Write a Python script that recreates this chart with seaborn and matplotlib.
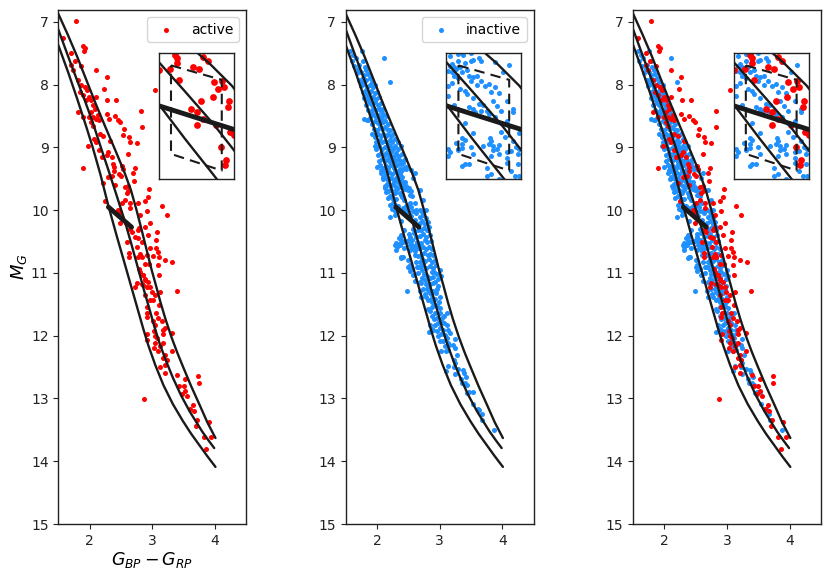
import pandas as pd
import matplotlib
matplotlib.use('Agg')
import matplotlib.pyplot as plt
import seaborn as sns

# Three model tracks
track_a_colour = [1.5, 1.66, 1.8, 1.95, 2.05, 2.17, 2.3, 2.43, 2.557, 2.66, 2.78, 2.86, 2.94, 3.05, 3.18, 3.33, 3.49, 3.62, 3.75, 3.88, 4.01]
track_a_mag = [7.37, 7.81, 8.22, 8.68, 9.0, 9.42, 9.93, 10.4, 10.84, 11.2, 11.62, 11.9, 12.16, 12.47, 12.79, 13.09, 13.36, 13.56, 13.74, 13.92, 14.09]
track_b_colour = [1.5, 1.65, 1.8, 1.93, 2.05, 2.17, 2.3, 2.43, 2.57, 2.67, 2.78, 2.87, 2.96, 3.03, 3.12, 3.22, 3.33, 3.46, 3.6, 3.8, 3.9, 3.99]
track_b_mag = [7.12, 7.53, 7.93, 8.27, 8.6, 8.97, 9.36, 9.76, 10.2, 10.55, 10.95, 11.28, 11.59, 11.84, 12.13, 12.4, 12.67, 12.95, 13.21, 13.53, 13.67, 13.79]
track_c_colour = [1.5, 1.65, 1.8, 1.95, 2.1, 2.25, 2.4, 2.55, 2.66, 2.75, 2.83, 2.91, 2.99, 3.06, 3.13, 3.21, 3.31, 3.4, 3.49, 3.62, 3.76, 3.88, 4.01]
track_c_mag = [6.87, 7.2, 7.55, 7.93, 8.31, 8.67, 9.02, 9.38, 9.68, 10.0, 10.31, 10.63, 10.95, 11.2, 11.46, 11.73, 12.03, 12.27, 12.49, 12.8, 13.11, 13.38, 13.63]

# Thick segment and dashed selection box
thick_colour = [2.30, 2.67]
thick_mag = [9.95, 10.27]
box_colour = [2.36, 2.61, 2.61, 2.36, 2.36]
box_mag = [9.405, 9.60, 10.825, 10.60, 9.405]

active_stars = [
    (1.79, 6.98), (1.58, 7.26), (1.90, 7.39), (1.93, 7.41), (1.91, 7.46), (1.70, 7.49), (1.77, 7.63),
    (1.71, 7.69), (1.74, 7.77), (1.87, 7.70), (2.11, 7.77), (2.27, 7.88), (2.23, 8.07), (1.82, 7.92),
    (1.87, 8.00), (1.93, 8.04), (1.96, 8.08), (1.85, 8.11), (1.90, 8.16), (1.99, 8.19), (2.03, 8.24),
    (2.10, 8.20), (1.95, 8.24), (2.28, 8.25), (2.42, 8.25), (2.06, 8.32), (2.08, 8.38), (2.03, 8.43),
    (1.82, 8.44), (2.82, 8.42), (1.90, 8.51), (1.99, 8.52), (2.06, 8.51), (2.14, 8.48), (2.27, 8.46),
    (2.40, 8.50), (2.31, 8.54), (2.46, 8.56), (2.49, 8.60), (2.02, 8.59), (2.11, 8.55), (2.05, 8.66),
    (2.15, 8.56), (2.55, 8.71), (2.83, 8.68), (2.16, 8.78), (2.22, 8.82), (2.07, 8.86), (2.11, 8.91),
    (2.54, 8.80), (2.63, 8.84), (2.65, 8.91), (2.75, 8.93), (1.98, 8.97), (2.15, 9.04), (2.32, 8.90),
    (2.30, 9.08), (2.62, 9.10), (2.27, 9.12), (2.35, 9.15), (2.19, 9.16), (1.90, 9.32), (2.72, 9.32),
    (2.69, 9.41), (2.30, 9.47), (2.71, 9.53), (2.21, 9.57), (2.95, 9.67), (2.94, 9.79), (2.89, 9.86),
    (2.78, 9.89), (2.25, 9.86), (3.15, 9.93), (2.91, 10.01), (3.23, 10.08), (2.80, 10.08), (2.96, 10.20),
    (2.89, 10.26), (2.79, 10.29), (3.08, 10.34), (2.93, 10.39), (2.77, 10.31), (3.06, 10.47), (2.78, 10.45),
    (2.72, 10.42), (2.83, 10.50), (2.76, 10.58), (2.96, 10.60), (3.06, 10.61), (3.10, 10.66), (2.80, 10.69),
    (2.78, 10.74), (2.83, 10.74), (2.91, 10.71), (3.02, 10.73), (3.11, 10.74), (3.20, 10.79), (3.32, 10.82),
    (2.88, 10.85), (2.95, 10.85), (3.10, 10.87), (2.79, 10.93), (3.11, 11.03), (2.85, 11.03), (2.88, 11.09),
    # inside the inset window
    (2.38, 9.27), (2.39, 9.31), (2.39, 9.37), (2.52, 9.29), (2.54, 9.34), (2.355, 9.46), (2.47, 9.43),
    (2.50, 9.45), (2.40, 9.60), (2.57, 9.63), (2.61, 9.62), (2.62, 9.70), (2.59, 9.72), (2.645, 9.89),
    (2.64, 9.97), (2.565, 9.83), (2.51, 9.89), (2.46, 9.99), (2.49, 10.03), (2.52, 10.13), (2.49, 10.21),
    (2.58, 10.21), (2.65, 10.30), (2.67, 10.34), (2.605, 10.50), (2.63, 10.68), (2.625, 10.75),
    (3.04, 8.09),
    # lower sequence
    (2.80, 10.98), (2.86, 11.03), (2.72, 11.22), (2.75, 11.16), (3.39, 11.28), (2.88, 11.11), (2.94, 11.14),
    (2.91, 11.22), (2.96, 11.22), (2.86, 11.19), (2.83, 11.17), (2.99, 11.30), (3.04, 11.35), (2.88, 11.35),
    (3.13, 11.31), (2.96, 11.43), (3.02, 11.43), (3.11, 11.51), (2.91, 11.55), (3.06, 11.63), (2.92, 11.63),
    (2.91, 11.70), (3.10, 11.72), (3.16, 11.77), (3.02, 11.77), (3.04, 11.83), (3.20, 11.88), (3.18, 11.91),
    (3.03, 11.92), (3.31, 11.96), (2.92, 11.97), (3.18, 11.97), (2.91, 12.07), (3.04, 12.00), (3.08, 12.04),
    (3.18, 12.11), (3.05, 12.11), (3.03, 12.19), (3.12, 12.16), (3.10, 12.24), (3.31, 12.25), (3.20, 12.31),
    (3.18, 12.36), (3.23, 12.39), (3.20, 12.47), (3.13, 12.50), (3.20, 12.59), (3.40, 12.63), (3.73, 12.64),
    (3.52, 12.69), (3.74, 12.76), (3.43, 12.80), (3.50, 12.80), (3.53, 12.88), (3.48, 12.93), (3.55, 12.96),
    (2.87, 13.01), (3.65, 13.10), (3.60, 13.17), (3.67, 13.20), (3.71, 13.34), (3.70, 13.44), (3.90, 13.38),
    (3.82, 13.62), (3.94, 13.62), (3.86, 13.81),
]

inactive_stars = [
    # upper sequence, row by row
    (1.57, 7.47), (1.76, 7.46), (1.62, 7.53), (2.11, 7.57), (1.60, 7.62), (1.66, 7.58), (1.78, 7.63),
    (1.64, 7.71), (1.72, 7.68), (1.80, 7.72), (1.83, 7.77), (1.68, 7.81), (1.75, 7.79), (1.79, 7.84),
    (1.85, 7.83), (1.72, 7.92), (1.78, 7.89), (1.83, 7.93), (1.88, 7.9), (1.92, 7.95), (2.20, 7.96),
    (1.74, 8.02), (1.79, 7.99), (1.84, 8.03), (1.88, 8.0), (1.93, 8.04), (1.97, 8.01), (1.78, 8.12),
    (1.83, 8.09), (1.87, 8.13), (1.91, 8.1), (1.96, 8.14), (2.0, 8.11), (1.79, 8.21), (1.85, 8.18),
    (1.9, 8.22), (1.94, 8.19), (1.98, 8.23), (2.03, 8.2), (1.82, 8.32), (1.88, 8.29), (1.92, 8.33),
    (1.96, 8.28), (2.01, 8.32), (2.06, 8.29), (1.85, 8.4), (1.9, 8.43), (1.94, 8.38), (1.98, 8.41),
    (2.03, 8.37), (2.07, 8.42), (2.1, 8.39), (1.84, 8.56), (1.88, 8.53), (1.85, 8.57), (1.79, 8.55),
    (1.9, 8.5), (1.94, 8.47), (1.98, 8.52), (2.02, 8.48), (2.06, 8.51), (2.1, 8.47), (2.14, 8.5),
    (1.92, 8.62), (1.97, 8.58), (2.01, 8.61), (2.05, 8.57), (2.09, 8.6), (2.13, 8.58), (2.17, 8.62),
    (1.95, 8.7), (2.0, 8.72), (2.04, 8.68), (2.08, 8.71), (2.12, 8.67), (2.16, 8.7), (2.2, 8.73),
    (1.96, 8.83), (2.02, 8.79), (2.06, 8.82), (2.1, 8.78), (2.14, 8.81), (2.18, 8.78), (2.22, 8.82),
    (2.26, 8.79), (1.98, 8.91), (2.04, 8.88), (2.08, 8.92), (2.12, 8.89), (2.16, 8.92), (2.2, 8.88),
    (2.24, 8.91), (2.29, 8.87), (2.33, 8.92), (1.99, 9.03), (2.03, 8.98), (2.08, 9.02), (2.13, 8.99),
    (2.17, 9.03), (2.21, 8.98), (2.25, 9.02), (2.29, 8.98), (2.33, 9.03), (2.38, 8.98), (2.02, 9.12),
    (2.07, 9.09), (2.11, 9.13), (2.15, 9.09), (2.19, 9.12), (2.23, 9.08), (2.27, 9.13), (2.31, 9.09),
    (2.35, 9.13), (2.4, 9.1), (2.03, 9.21), (2.08, 9.18), (2.12, 9.22), (2.17, 9.19), (2.21, 9.23),
    (2.25, 9.18), (2.29, 9.22), (2.34, 9.19), (2.38, 9.22), (2.44, 9.18),
    # middle of the sequence, beside the inset window
    (2.0, 9.31), (2.05, 9.28), (2.09, 9.33), (2.14, 9.29), (2.18, 9.32), (2.22, 9.28), (2.27, 9.33),
    (2.06, 9.41), (2.1, 9.38), (2.15, 9.42), (2.19, 9.39), (2.24, 9.43), (2.28, 9.38), (2.09, 9.51),
    (2.13, 9.48), (2.18, 9.52), (2.22, 9.49), (2.27, 9.53), (2.12, 9.62), (2.16, 9.58), (2.2, 9.61),
    (2.25, 9.58), (2.29, 9.62), (2.13, 9.65), (2.15, 9.71), (2.18, 9.7), (2.23, 9.68), (2.28, 9.72),
    (2.17, 9.81), (2.21, 9.78), (2.26, 9.82), (2.21, 9.91), (2.26, 9.88), (2.29, 9.92), (2.24, 9.98),
    (2.28, 10.02), (2.2, 10.11), (2.28, 10.08), (2.1, 9.47), (2.07, 9.36), (2.18, 9.7),
    (2.61, 9.4), (2.69, 9.68), (2.74, 9.84), (2.78, 9.99), (2.82, 10.31), (2.58, 9.49), (2.68, 10.0),
    (2.72, 10.03), (2.69, 10.11), (2.74, 10.08), (2.78, 10.12), (2.68, 10.21), (2.72, 10.18), (2.77, 10.22),
    (2.81, 10.19), (2.7, 10.32), (2.75, 10.28), (2.8, 10.31), (2.83, 10.27), (2.69, 10.41), (2.73, 10.38),
    (2.78, 10.42), (2.84, 10.39), (2.71, 10.52), (2.76, 10.48), (2.8, 10.51), (2.86, 10.49), (2.68, 10.61),
    (2.74, 10.58), (2.79, 10.62), (2.83, 10.59), (2.88, 10.62), (2.7, 10.71), (2.75, 10.68), (2.81, 10.72),
    (2.85, 10.69), (2.9, 10.72), (2.69, 10.82), (2.72, 10.78), (2.77, 10.81), (2.83, 10.78), (2.87, 10.82),
    (2.92, 10.79), (2.68, 10.91), (2.74, 10.88), (2.79, 10.92), (2.85, 10.89), (2.89, 10.92), (2.94, 10.88),
    (2.38, 10.39), (2.29, 10.55), (2.32, 10.58), (2.38, 10.52), (2.41, 10.74), (2.5, 10.9), (2.52, 10.97),
    (2.31, 10.53), (2.36, 10.55), (2.39, 10.41), (2.42, 10.5), (2.38, 10.47),
    # inside the inset window
    (2.385, 9.26), (2.46, 9.31), (2.47, 9.35), (2.54, 9.36), (2.36, 9.34), (2.39, 9.37), (2.42, 9.34),
    (2.43, 9.33), (2.32, 9.41), (2.34, 9.43), (2.31, 9.48), (2.33, 9.5), (2.34, 9.55), (2.41, 9.55),
    (2.43, 9.56), (2.45, 9.55), (2.47, 9.61), (2.33, 9.64), (2.31, 9.68), (2.42, 9.61), (2.45, 9.67),
    (2.51, 9.65), (2.49, 9.68), (2.37, 9.73), (2.54, 9.7), (2.52, 9.76), (2.56, 9.78), (2.39, 9.75),
    (2.31, 9.82), (2.4, 9.79), (2.43, 9.84), (2.53, 9.88), (2.6, 9.88), (2.46, 9.93), (2.48, 9.94),
    (2.55, 9.95), (2.41, 9.96), (2.34, 9.94), (2.43, 9.99), (2.47, 10.02), (2.5, 10.02), (2.57, 10.02),
    (2.63, 9.99), (2.63, 10.04), (2.51, 10.06), (2.54, 10.1), (2.44, 10.04), (2.39, 10.18), (2.6, 10.15),
    (2.57, 10.18), (2.61, 10.22), (2.43, 10.32), (2.57, 10.3), (2.66, 10.32), (2.59, 10.37), (2.515, 10.38),
    (2.52, 10.43), (2.63, 10.42), (2.35, 10.45), (2.51, 10.47), (2.48, 10.49), (2.56, 10.48), (2.36, 10.54),
    (2.53, 10.49), (2.53, 10.55), (2.55, 10.54), (2.645, 10.5), (2.66, 10.54), (2.6, 10.57), (2.62, 10.56),
    (2.31, 10.63), (2.43, 10.6), (2.52, 10.63), (2.56, 10.6), (2.655, 10.6), (2.6, 10.65), (2.6, 10.72),
    (2.655, 10.73), (2.39, 10.74), (2.38, 10.76), (2.52, 10.87), (2.62, 10.83), (2.64, 10.9), (2.66, 10.9),
    (2.33, 9.38), (2.35, 9.46), (2.37, 9.42), (2.38, 9.5), (2.36, 9.58), (2.4, 9.47),
    # lower sequence
    (2.48, 11.28), (2.61, 11.13), (2.69, 11.14), (2.71, 11.16), (2.7, 11.38), (2.78, 11.38), (2.82, 11.43),
    (2.86, 11.34), (2.82, 11.22), (2.8, 11.25), (2.9, 11.16), (2.93, 11.14), (2.89, 11.06), (2.98, 11.09),
    (2.95, 11.01), (2.87, 10.98), (2.91, 10.98), (2.75, 11.02), (2.8, 11.05), (2.84, 11.08), (2.72, 11.08),
    (2.76, 11.11), (2.85, 11.17), (2.79, 11.18), (2.94, 11.32), (3.0, 11.39), (2.93, 11.51), (3.01, 11.56),
    (2.82, 11.58), (2.84, 11.6), (3.11, 11.64), (3.07, 11.69), (2.95, 11.72), (2.91, 11.74), (3.12, 11.83),
    (2.85, 11.83), (2.93, 11.83), (2.83, 11.94), (2.9, 11.91), (3.01, 11.87), (3.14, 11.91), (3.16, 11.96),
    (3.06, 11.91), (2.98, 12.01), (3.24, 12.06), (3.01, 12.09), (3.11, 12.04), (3.09, 11.99), (3.15, 12.15),
    (3.22, 12.15), (3.24, 12.2), (3.02, 12.25), (3.1, 12.24), (3.14, 12.23), (3.27, 12.31), (3.23, 12.38),
    (3.24, 12.44), (3.13, 12.48), (3.23, 12.5), (3.3, 12.53), (3.24, 12.61), (3.1, 12.57), (3.37, 12.55),
    (3.39, 12.59), (3.42, 12.66), (3.34, 12.69), (3.35, 12.76), (3.4, 12.75), (3.43, 12.79), (3.47, 12.89),
    (3.53, 12.89), (3.44, 12.92), (3.54, 13.08), (3.62, 13.17), (3.67, 13.25), (3.68, 13.35), (3.87, 13.5),
    (3.63, 13.19), (2.96, 11.25), (2.99, 11.47), (2.88, 11.47), (2.93, 11.64), (3.04, 11.78),
    # filling the solid part of the band
    (2.68, 11.28), (2.74, 11.26), (2.76, 11.33), (2.83, 11.3), (2.9, 11.28), (2.98, 11.2), (2.86, 11.42),
    (2.92, 11.42), (2.96, 11.53), (2.88, 11.55), (3.0, 11.64), (2.88, 11.68), (3.03, 11.72), (2.97, 11.8),
    (3.07, 11.8), (2.88, 11.9), (2.96, 11.93), (3.02, 11.98), (3.06, 12.08), (3.13, 12.12), (3.08, 12.16),
    (2.5, 10.79), (2.56, 10.94), (2.72, 10.95), (3.0, 10.95), (3.02, 11.05), (2.58, 11.03), (2.65, 11.0),
    (1.7, 7.75), (1.76, 7.95), (1.86, 8.25), (1.81, 8.15), (2.08, 8.55), (1.92, 8.78), (1.96, 8.98),
    (2.18, 8.96), (2.23, 9.15), (2.32, 9.28), (2.36, 9.25), (2.42, 9.24),
]

active = pd.DataFrame(active_stars, columns=['colour', 'mag'])
inactive = pd.DataFrame(inactive_stars, columns=['colour', 'mag'])

sns.set_theme(style='ticks', rc={'text.color': 'black', 'axes.labelcolor': 'black',
                                 'axes.edgecolor': '#222222', 'xtick.color': '#222222',
                                 'ytick.color': '#222222', 'font.family': 'DejaVu Sans',
                                 'mathtext.fontset': 'dejavusans'})


def draw_tracks(ax):
    for xs, ys in [(track_a_colour, track_a_mag), (track_b_colour, track_b_mag),
                   (track_c_colour, track_c_mag)]:
        sns.lineplot(x=xs, y=ys, sort=False, estimator=None, color='k', lw=1.7, ax=ax)
    sns.lineplot(x=thick_colour, y=thick_mag, sort=False, estimator=None, color='k', lw=3.5, ax=ax)


def add_inset(ax, show_inactive, show_active):
    ins = ax.inset_axes([0.535, 0.671, 0.40, 0.245])
    if show_inactive:
        sns.scatterplot(data=inactive, x='colour', y='mag', color='dodgerblue', s=13, linewidth=0, ax=ins)
    if show_active:
        sns.scatterplot(data=active, x='colour', y='mag', color='red', s=24, linewidth=0, ax=ins)
    draw_tracks(ins)
    sns.lineplot(x=box_colour, y=box_mag, sort=False, estimator=None, color='k', lw=1.5, ax=ins,
                 linestyle=(0, (5, 3)))
    ins.set_xlim(2.30, 2.67)
    ins.set_ylim(10.94, 9.24)
    ins.set_xticks([])
    ins.set_yticks([])
    ins.set_xlabel('')
    ins.set_ylabel('')
    for s in ins.spines.values():
        s.set_visible(True)
        s.set_linewidth(1.0)


fig, axes = plt.subplots(1, 3, figsize=(8.31, 5.79), dpi=100)
fig.subplots_adjust(left=58.3 / 831, right=821 / 831, top=1 - 10 / 579, bottom=1 - 524 / 579, wspace=0.53)

sns.scatterplot(data=active, x='colour', y='mag', color='red', s=13, linewidth=0, label='active', ax=axes[0])
sns.scatterplot(data=inactive, x='colour', y='mag', color='dodgerblue', s=13, linewidth=0, label='inactive', ax=axes[1])
sns.scatterplot(data=inactive, x='colour', y='mag', color='dodgerblue', s=13, linewidth=0, ax=axes[2])
sns.scatterplot(data=active, x='colour', y='mag', color='red', s=13, linewidth=0, ax=axes[2])

add_inset(axes[0], False, True)
add_inset(axes[1], True, False)
add_inset(axes[2], True, True)

for ax in axes:
    draw_tracks(ax)
    ax.set_xlim(1.5, 4.5)
    ax.set_ylim(15, 6.81)
    ax.set_xticks([2, 3, 4])
    ax.set_yticks(range(7, 16))
    ax.set_xlabel('')
    ax.set_ylabel('')
    ax.tick_params(labelsize=10, width=0.8, length=3.5)
    for s in ax.spines.values():
        s.set_visible(True)
        s.set_linewidth(1.0)

axes[0].legend(loc='upper right', fontsize=10)
axes[1].legend(loc='upper right', fontsize=10)
axes[0].set_xlabel(r'$G_{BP} - G_{RP}$', fontsize=12.5, labelpad=2)
axes[0].set_ylabel(r'$M_G$', fontsize=13, labelpad=1)

fig.savefig('out.png', dpi=100)
